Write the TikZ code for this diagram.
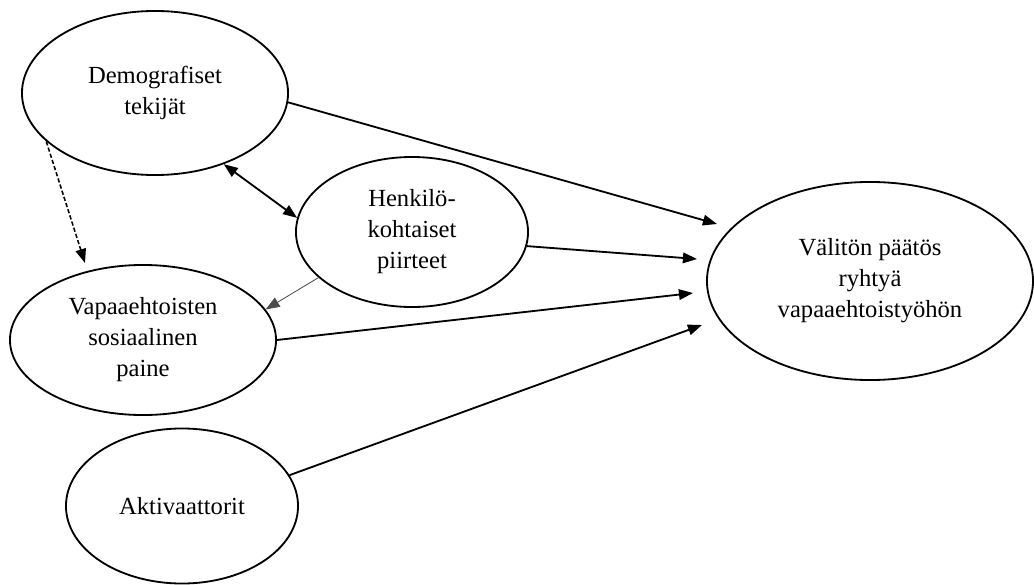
\documentclass[tikz,border=0pt]{standalone}
\usepackage{fontspec}
\setmainfont{Liberation Serif}
\usetikzlibrary{arrows.meta,shapes.geometric}
\begin{document}
\begin{tikzpicture}[x=0.025cm,y=-0.025cm,
	factor/.style={draw, ellipse, line width=1.3pt, inner sep=0pt, align=center,
		font=\fontsize{17.5}{22}\selectfont},
	link/.style={line width=1.3pt, -{Triangle[length=10pt,width=7.5pt]}}
	]
	\useasboundingbox (0,0) rectangle (1034,585);
	\node [factor, minimum width=6.65cm, minimum height=4.1cm] (demo) at (155,93) {Demografiset\\tekijät};
	\node [factor, minimum width=5.8cm, minimum height=3.75cm] (henk) at (412,232) {Henkilö-\\kohtaiset\\piirteet};
	\node [factor, minimum width=6.65cm, minimum height=3.75cm] (paine) at (143,340) {Vapaaehtoisten\\sosiaalinen\\paine};
	\node [factor, minimum width=5.8cm, minimum height=3.875cm] (akt) at (182,506) {Aktivaattorit};
	\node [factor, minimum width=8.15cm, minimum height=4.95cm] (paatos) at (870,281) {Välitön päätös\\ryhtyä\\vapaaehtoistyöhön};
	% arrow ends short of the decision
	\coordinate (in1) at (717,224);
	\coordinate (in2) at (697,259);
	\coordinate (in3) at (693,293);
	\coordinate (in4) at (702,325);
	\coordinate (dashend) at (85,263);
	\draw [link] (demo.-4.7) -- (in1);
	\draw [link, {Triangle[length=10pt,width=7.5pt]}-{Triangle[length=10pt,width=7.5pt]}] (demo.-46) -- (henk.173.6);
	\draw [link, line width=1.1pt, dash pattern=on 3pt off 1.6pt] (demo.204.6) -- (dashend);
	\draw [link] (henk.-7.4) -- (in2);
	\draw [link, line width=0.6pt, draw=black!70] (henk.206) -- (paine.14.8);
	\draw [link] (paine.0) -- (in3);
	\draw [link] (akt.16.8) -- (in4);
\end{tikzpicture}
\end{document}
